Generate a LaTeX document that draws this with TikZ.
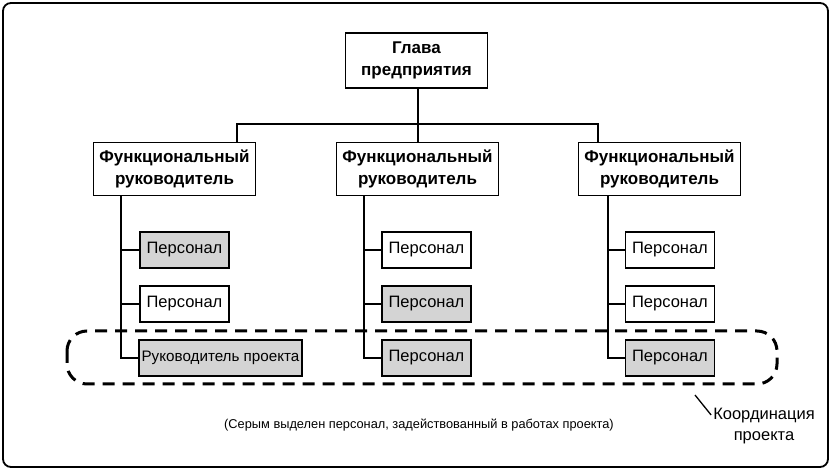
\documentclass[tikz,border=0pt]{standalone}
\usepackage{fontspec}
\setmainfont{Liberation Sans}
\usetikzlibrary{calc}

\begin{document}
\begin{tikzpicture}[x=1pt,y=-1pt,
    chief/.style={draw,line width=1.8pt,fill=white,align=center,inner sep=0pt,
      font=\fontsize{17}{21.5}\selectfont\bfseries},
    staff/.style={draw,line width=1.8pt,fill=white,inner sep=0pt,minimum height=36pt,
      font=\fontsize{16.5}{18}\selectfont},
    busy/.style={staff,fill=black!17},
    link/.style={line width=2.2pt}]
                 \useasboundingbox (0,0) rectangle (831,470);
                 \draw[line width=1.8pt,rounded corners=8pt] (3,3) rectangle (828,467);
                 \node[chief,minimum width=142pt,minimum height=55pt](head)at(416.5,60.5){Глава\\предприятия};
                 \node[chief,minimum width=162pt,minimum height=53pt](f1)at(174.5,169){Функциональный\\руководитель};
                 \node[chief,minimum width=162pt,minimum height=53pt](f2)at(417.5,169){Функциональный\\руководитель};
                 \node[chief,minimum width=162pt,minimum height=53pt](f3)at(659.5,169){Функциональный\\руководитель};
                 \coordinate (bus) at (418,124);
                 \draw[link] (head.south -| bus) -- (f2.north -| bus);
                 \draw[link] (f1.north -| 237,0) |- (bus) -| (f3.north -| 598,0);
                 % left column
                 \node[busy,minimum width=89pt](p11)at(184.5,250){Персонал};
                 \node[staff,minimum width=89pt](p12)at(184.5,304){Персонал};
                 \node[busy,minimum width=163pt,font=\fontsize{15.2}{18}\selectfont](p13)at(220.5,358){Руководитель проекта};
                 \draw[link] (f1.south -| 121,0) |- (p13.west);
                 \draw[link] (121,0 |- p11.west) -- (p11.west);
                 \draw[link] (121,0 |- p12.west) -- (p12.west);
                 % middle column
                 \node[staff,minimum width=89pt](p21)at(426.5,250){Персонал};
                 \node[busy,minimum width=89pt](p22)at(426.5,304){Персонал};
                 \node[busy,minimum width=89pt](p23)at(426.5,358){Персонал};
                 \draw[link] (f2.south -| 364,0) |- (p23.west);
                 \draw[link] (364,0 |- p21.west) -- (p21.west);
                 \draw[link] (364,0 |- p22.west) -- (p22.west);
                 % right column
                 \node[staff,minimum width=89pt](p31)at(670,250){Персонал};
                 \node[staff,minimum width=89pt](p32)at(670,304){Персонал};
                 \node[busy,minimum width=89pt](p33)at(670,358){Персонал};
                 \draw[link] (f3.south -| 608,0) |- (p33.west);
                 \draw[link] (608,0 |- p31.west) -- (p31.west);
                 \draw[link] (608,0 |- p32.west) -- (p32.west);
                 % project coordination
                 \draw[line width=3pt,dash pattern=on 12pt off 8pt,rounded corners=20pt] (67,331) rectangle (777,384);
                 \node[align=center,inner sep=0pt,font=\fontsize{16.5}{21}\selectfont](coord)at(764,426){Координация\\проекта};
                 \coordinate (tip) at (695,395);
                 \draw[line width=1.3pt] (tip) -- ($(coord.north west)+(-2,7)$);
                 \node[font=\fontsize{12.8}{14}\selectfont](note)at(419,425){(Серым выделен персонал, задействованный в работах проекта)};
               \end{tikzpicture}
\end{document}
